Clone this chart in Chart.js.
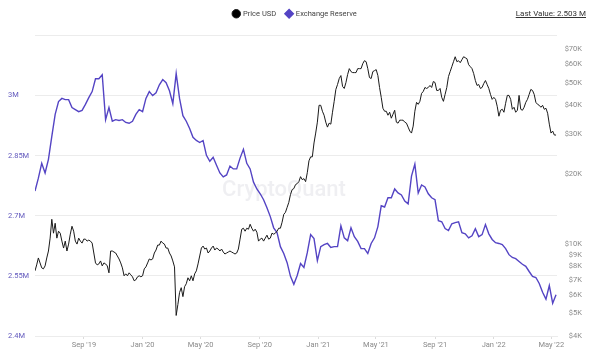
<!DOCTYPE html>
<html lang="en">
<head>
  <meta charset="UTF-8">
  <title>Exchange Reserve vs Price</title>
  <script src="https://cdn.jsdelivr.net/npm/chart.js"></script>
  <style>
    body { margin: 0; background: #fff; }
    .wrap { position: relative; width: 599px; height: 355px; }
    #lastValue {
      position: absolute; top: 9px; right: 13px;
      font: 8px Roboto, sans-serif; color: #333; text-decoration: underline;
    }
  </style>
</head>
<body>
  <div class="wrap">
    <canvas id="chart" width="599" height="355"></canvas>
    <div id="lastValue"></div>
  </div>

  <script>
    const startDate = '2019-05-22';
    const endDate = '2022-05-13';
    const reserveStepDays = 7;   // weekly samples
    const priceStepDays = 3.5;   // twice a week

    // Exchange reserve (millions BTC)
    const reserve = [
      2.762, 2.794, 2.831, 2.807, 2.841, 2.898, 2.953, 2.985, 2.993, 2.990,
      2.990, 2.970, 2.965, 2.960, 2.963, 2.978, 2.995, 3.010, 3.042, 3.042,
      3.052, 2.940, 2.970, 2.936, 2.940, 2.938, 2.940, 2.933, 2.931, 2.936,
      2.953, 2.965, 2.960, 2.993, 3.010, 3.000, 3.007, 3.027, 3.040, 3.032,
      3.012, 2.980, 3.055, 2.993, 2.950, 2.936, 2.918, 2.896, 2.888, 2.883,
      2.888, 2.851, 2.836, 2.846, 2.826, 2.807, 2.797, 2.802, 2.824, 2.817,
      2.817, 2.844, 2.866, 2.831, 2.817, 2.784, 2.767, 2.755, 2.740, 2.720,
      2.698, 2.670, 2.658, 2.623, 2.606, 2.583, 2.549, 2.529, 2.551, 2.581,
      2.571, 2.608, 2.653, 2.643, 2.588, 2.623, 2.628, 2.631, 2.621, 2.623,
      2.623, 2.675, 2.645, 2.638, 2.670, 2.648, 2.636, 2.618, 2.618, 2.606,
      2.631, 2.645, 2.673, 2.725, 2.722, 2.745, 2.745, 2.767, 2.757, 2.752,
      2.737, 2.730, 2.799, 2.829, 2.757, 2.777, 2.772, 2.755, 2.745, 2.740,
      2.688, 2.685, 2.668, 2.663, 2.680, 2.683, 2.685, 2.658, 2.655, 2.645,
      2.650, 2.668, 2.648, 2.653, 2.678, 2.655, 2.641, 2.633, 2.631, 2.628,
      2.618, 2.603, 2.596, 2.593, 2.586, 2.579, 2.574, 2.561, 2.549, 2.546,
      2.531, 2.509, 2.492, 2.526, 2.482, 2.503
    ];

    // BTC price (USD)
    const price = [
      7658, 8126, 8708, 8288, 7889, 7811, 8046, 8708, 9332, 10611,
      12803, 11148, 12306, 10611, 11371, 11148, 10301, 9612, 10301, 9332,
      10000, 11039, 11947, 11371, 10301, 10000, 10611, 10301, 10099, 10507,
      10507, 10301, 10403, 10301, 10099, 9149, 8288, 8126, 8207, 8453,
      8046, 8288, 8207, 8046, 7508, 9332, 9332, 9240, 9149, 8882,
      8622, 8288, 7889, 7289, 7434, 7289, 7508, 7361, 7217, 6937,
      7006, 7217, 7289, 7217, 7289, 7811, 7967, 8288, 8622, 8537,
      8622, 9149, 9424, 9902, 9902, 10301, 10099, 10000, 9612, 9612,
      9149, 8882, 8453, 7967, 4909, 5473, 6162, 6474, 5923, 6538,
      6735, 7146, 6937, 7289, 6937, 7434, 7658, 8207, 8882, 9612,
      9804, 9518, 9612, 9149, 9332, 9612, 9804, 9424, 9612, 9518,
      9332, 9518, 9240, 9059, 9149, 9240, 9332, 9240, 9149, 9059,
      9149, 9518, 10507, 11598, 11713, 11371, 11713, 11598, 12185, 11713,
      11371, 11598, 11259, 10301, 10507, 10611, 10301, 10611, 10930, 10507,
      10611, 11148, 11039, 11148, 11371, 11713, 11713, 12429, 13451, 13720,
      14415, 15145, 16391, 17221, 17392, 18093, 18273, 18637, 19581, 19009,
      19198, 18637, 20371, 22936, 23860, 23860, 27401, 30247, 33720, 39889,
      39889, 37593, 36136, 33720, 32095, 33389, 33060, 37223, 41497, 46722,
      49088, 52087, 53654, 48127, 47186, 50068, 54187, 57497, 55817, 55268,
      55268, 55268, 57497, 57497, 57497, 60409, 62227, 61615, 57497, 52605,
      52087, 55817, 56372, 56931, 53654, 47654, 43170, 38724, 37593, 37593,
      36136, 37223, 35080, 36494, 37966, 33720, 33389, 34393, 34393, 34393,
      33720, 33389, 32095, 30851, 30247, 32413, 37593, 41089, 40285, 41497,
      44911, 45807, 47654, 47186, 47654, 48606, 47654, 50566, 50068, 46262,
      46262, 47186, 43170, 41497, 44469, 47654, 53127, 55817, 58645, 61615,
      64736, 61615, 62227, 61009, 62845, 64736, 64099, 63469, 59815, 58645,
      57497, 54725, 51068, 48606, 49088, 47186, 47654, 49576, 51068, 49088,
      47186, 44469, 42325, 43170, 42325, 39497, 35780, 37966, 38343, 37223,
      40685, 44032, 44032, 42325, 38343, 39109, 37223, 37966, 44032, 38343,
      37966, 39109, 41089, 42325, 44469, 46722, 46262, 44469, 41089, 40285,
      39889, 39109, 39889, 38343, 38724, 36857, 33060, 30247, 30851, 29655,
      29655
    ];

    const tickDates = ['2019-09-01', '2020-01-01', '2020-05-01', '2020-09-01', '2021-01-01',
                       '2021-05-01', '2021-09-01', '2022-01-01', '2022-05-01'];
    const tickLabels = ["Sep '19", "Jan '20", "May '20", "Sep '20", "Jan '21",
                        "May '21", "Sep '21", "Jan '22", "May '22"];
    const priceTicks = [4000, 5000, 6000, 7000, 8000, 9000, 10000, 20000, 30000, 40000, 50000, 60000, 70000];

    const dayOf = d => (Date.parse(d) - Date.parse(startDate)) / 864e5;
    const tickDays = tickDates.map(dayOf);

    const font = 'Roboto';
    const purple = '#5444c4';

    document.getElementById('lastValue').textContent =
      'Last Value: ' + reserve[reserve.length - 1].toFixed(3) + ' M';

    // faint watermark behind the lines
    const watermark = {
      id: 'watermark',
      beforeDatasetsDraw(chart) {
        const { ctx, chartArea } = chart;
        ctx.save();
        ctx.font = '500 22px ' + font;
        ctx.fillStyle = 'rgba(150, 150, 170, 0.15)';
        ctx.textAlign = 'center';
        ctx.textBaseline = 'middle';
        ctx.fillText('CryptoQuant', (chartArea.left + chartArea.right) / 2 - 12, (chartArea.top + chartArea.bottom) / 2 + 5);
        ctx.restore();
      }
    };

    // extra space under the legend
    const legendGap = {
      id: 'legendGap',
      beforeInit(chart) {
        const fit = chart.legend.fit;
        chart.legend.fit = function () {
          fit.bind(chart.legend)();
          this.height += 8;
        };
      }
    };

    new Chart(document.getElementById('chart'), {
      type: 'line',
      data: {
        datasets: [{
          label: 'Price USD',
          data: price.map((v, i) => ({ x: i * priceStepDays, y: v })),
          yAxisID: 'yR',
          borderColor: '#1a1a1a',
          backgroundColor: '#000',
          borderWidth: 1,
          pointRadius: 0,
          pointStyle: 'circle'
        }, {
          label: 'Exchange Reserve',
          data: reserve.map((v, i) => ({ x: i * reserveStepDays, y: v })),
          yAxisID: 'yL',
          borderColor: purple,
          backgroundColor: purple,
          borderWidth: 1.4,
          pointRadius: 0,
          pointStyle: 'rectRot'
        }]
      },
      options: {
        responsive: false,
        animation: false,
        layout: { padding: { left: 8, right: 17, top: 0, bottom: 0 } },
        plugins: {
          tooltip: { enabled: false },
          legend: {
            position: 'top',
            labels: {
              usePointStyle: true,
              boxWidth: 6,
              boxHeight: 6,
              padding: 10,
              color: '#444',
              font: { family: font, size: 7.5 }
            }
          }
        },
        scales: {
          x: {
            type: 'linear',
            min: 0,
            max: dayOf(endDate),
            afterBuildTicks: s => { s.ticks = tickDays.map(v => ({ value: v })); },
            afterFit: s => { s.height = 19; },
            grid: { drawOnChartArea: false, tickLength: 3, color: '#dcdcdc' },
            border: { color: '#ececec' },
            ticks: {
              autoSkip: false,
              maxRotation: 0,
              padding: 2,
              color: '#8a8a8a',
              font: { family: font, size: 7.5 },
              callback: v => tickLabels[tickDays.indexOf(v)] || ''
            }
          },
          yL: {
            position: 'left',
            min: 2.4,
            max: 3.15,
            afterFit: s => { s.width = 27; },
            grid: { color: '#ececec', drawTicks: false },
            border: { display: false },
            ticks: {
              stepSize: 0.15,
              crossAlign: 'far',
              color: '#6259bd',
              font: { family: font, size: 7.5 },
              callback: v => {
                const m = parseFloat(v.toFixed(2));
                return m >= 3.15 ? '' : m + 'M';
              }
            }
          },
          yR: {
            type: 'logarithmic',
            position: 'right',
            min: 4000,
            max: 80000,
            afterBuildTicks: s => { s.ticks = priceTicks.map(v => ({ value: v })); },
            afterFit: s => { s.width = 25; },
            grid: { display: false },
            border: { display: false },
            ticks: {
              autoSkip: false,
              crossAlign: 'far',
              color: '#8a8a8a',
              font: { family: font, size: 7.5 },
              callback: v => '$' + (v / 1000) + 'K'
            }
          }
        }
      },
      plugins: [watermark, legendGap]
    });
  </script>
</body>
</html>
